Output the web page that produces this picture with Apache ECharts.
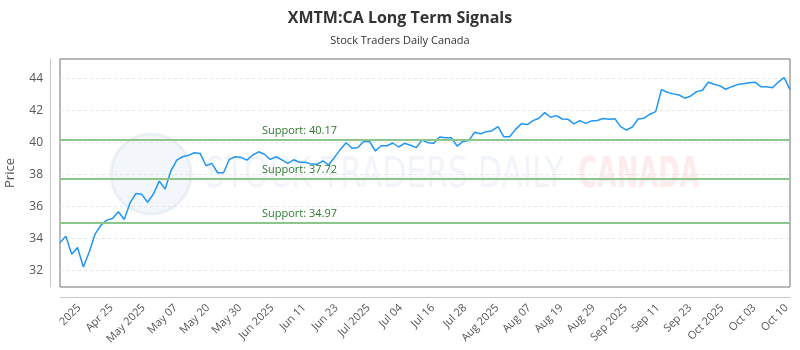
<!DOCTYPE html>
<html>
<head>
<meta charset="utf-8">
<script src="https://cdn.jsdelivr.net/npm/echarts@6/dist/echarts.min.js"></script>
<style>
  html, body { margin: 0; padding: 0; background: #fff; }
  #chart { width: 800px; height: 350px; }
</style>
</head>
<body>
<div id="chart"></div>
<script>
// closing prices, one per session
const prices = [
  33.71, 34.13, 33.00, 33.42, 32.20, 33.14, 34.25, 34.81, 35.13, 35.23,
  35.65, 35.17, 36.21, 36.80, 36.74, 36.25, 36.76, 37.57, 37.07, 38.21,
  38.88, 39.09, 39.18, 39.34, 39.30, 38.53, 38.68, 38.09, 38.09, 38.93,
  39.09, 39.05, 38.88, 39.20, 39.40, 39.25, 38.93, 39.09, 38.90, 38.68,
  38.90, 38.75, 38.75, 38.63, 38.62, 38.83, 38.58, 39.05, 39.55, 39.97,
  39.62, 39.67, 40.05, 40.06, 39.45, 39.78, 39.78, 39.95, 39.70, 39.93,
  39.81, 39.66, 40.14, 39.97, 39.93, 40.33, 40.28, 40.28, 39.76, 40.05,
  40.10, 40.62, 40.53, 40.66, 40.72, 40.98, 40.34, 40.34, 40.80, 41.15,
  41.10, 41.35, 41.50, 41.85, 41.56, 41.66, 41.45, 41.43, 41.14, 41.35,
  41.18, 41.33, 41.36, 41.48, 41.43, 41.47, 40.97, 40.76, 40.95, 41.45,
  41.50, 41.75, 41.91, 43.29, 43.12, 43.02, 42.95, 42.75, 42.89, 43.16,
  43.25, 43.75, 43.62, 43.52, 43.31, 43.47, 43.60, 43.66, 43.72, 43.75,
  43.47, 43.46, 43.41, 43.75, 44.04, 43.29
]
const categories = prices.map((_, i) => String(i + 1))

const xTickLabels = [
  '2025', 'Apr 25', 'May 2025', 'May 07', 'May 20', 'May 30', 'Jun 2025',
  'Jun 11', 'Jun 23', 'Jul 2025', 'Jul 04', 'Jul 16', 'Jul 28', 'Aug 2025',
  'Aug 07', 'Aug 19', 'Aug 29', 'Sep 2025', 'Sep 11', 'Sep 23', 'Oct 2025',
  'Oct 03', 'Oct 10'
]
const yTicks = [32, 34, 36, 38, 40, 42, 44]
const supports = [40.17, 37.72, 34.97]

const font = 'Open Sans'
const chart = echarts.init(document.getElementById('chart'), null, { renderer: 'canvas' })

const option = {
  animation: false,
  backgroundColor: '#fff',
  textStyle: { fontFamily: font },
  title: {
    text: 'XMTM:CA Long Term Signals',
    subtext: 'Stock Traders Daily Canada',
    left: 'center',
    top: 5,
    itemGap: 9,
    textStyle: { fontFamily: font, fontSize: 16, fontWeight: 'bold', color: '#333' },
    subtextStyle: { fontFamily: font, fontSize: 11, color: '#333' }
  },
  // faint watermark behind the plot
  graphic: [
    {
      type: 'circle',
      shape: { cx: 151, cy: 174, r: 40 },
      style: { fill: 'rgba(215,226,240,0.3)', stroke: 'rgba(215,226,240,0.45)', lineWidth: 3 },
      z: 0, silent: true
    },
    {
      type: 'group', x: 205, y: 155, z: 0, silent: true,
      children: [{
        type: 'text', scaleX: 0.83,
        style: { text: 'STOCK TRADERS DAILY', fill: 'rgba(215,224,236,0.35)', font: '42px "DejaVu Sans Condensed"' }
      }]
    },
    {
      type: 'group', x: 578, y: 155, z: 0, silent: true,
      children: [{
        type: 'text', scaleX: 0.68,
        style: { text: 'CANADA', fill: 'rgba(252,190,190,0.3)', font: 'bold 42px "DejaVu Sans Condensed"' }
      }]
    }
  ],
  grid: {
    left: 60, right: 10, top: 59, bottom: 63,
    outerBoundsMode: 'none',
    containLabel: false,
    show: true,
    borderColor: '#707070',
    borderWidth: 1,
    backgroundColor: 'transparent'
  },
  xAxis: [
    {
      type: 'category',
      data: categories,
      boundaryGap: false,
      axisLine: { show: false },
      axisTick: { show: false },
      axisLabel: { show: false },
      splitLine: { show: false }
    },
    {
      type: 'value',
      position: 'bottom',
      offset: 10,
      min: -0.6,
      max: 22.11,
      axisLine: { show: true, onZero: false, lineStyle: { color: '#c8c8c8', width: 1 } },
      axisTick: { show: false, customValues: xTickLabels.map((_, i) => i) },
      splitLine: { show: false },
      axisLabel: {
        customValues: xTickLabels.map((_, i) => i),
        formatter: (v) => xTickLabels[Math.round(v)],
        rotate: 45,
        margin: 9,
        fontSize: 11,
        color: '#555',
        fontFamily: font
      }
    }
  ],
  yAxis: {
    type: 'value',
    name: 'Price',
    nameLocation: 'middle',
    nameGap: 33,
    nameMoveOverlap: false,
    nameTextStyle: { fontSize: 13, color: '#555', fontFamily: font },
    min: 30.95,
    max: 45.2,
    offset: 10,
    axisLine: { show: true, onZero: false, lineStyle: { color: '#c8c8c8', width: 1 } },
    axisTick: { show: false, customValues: yTicks },
    axisLabel: {
      customValues: yTicks,
      margin: 7,
      fontSize: 12,
      color: '#555',
      fontFamily: font
    },
    splitLine: { show: true, lineStyle: { color: '#e4e4e4', type: [3, 3], width: 1 } }
  },
  series: [
    {
      type: 'line',
      xAxisIndex: 0,
      data: prices,
      symbol: 'none',
      lineStyle: { color: '#2196f3', width: 1.5 },
      itemStyle: { color: '#2196f3' },
      z: 3,
      markLine: {
        silent: true,
        symbol: 'none',
        animation: false,
        lineStyle: { color: '#8cc68c', width: 2, type: 'solid' },
        label: {
          position: 'insideStartTop',
          distance: [202, 3],
          formatter: (p) => 'Support: ' + p.value.toFixed(2),
          color: '#2f7a32',
          fontSize: 11,
          fontFamily: font
        },
        data: supports.map((s) => ({ yAxis: s }))
      }
    }
  ]
}

chart.setOption(option)
</script>
</body>
</html>
